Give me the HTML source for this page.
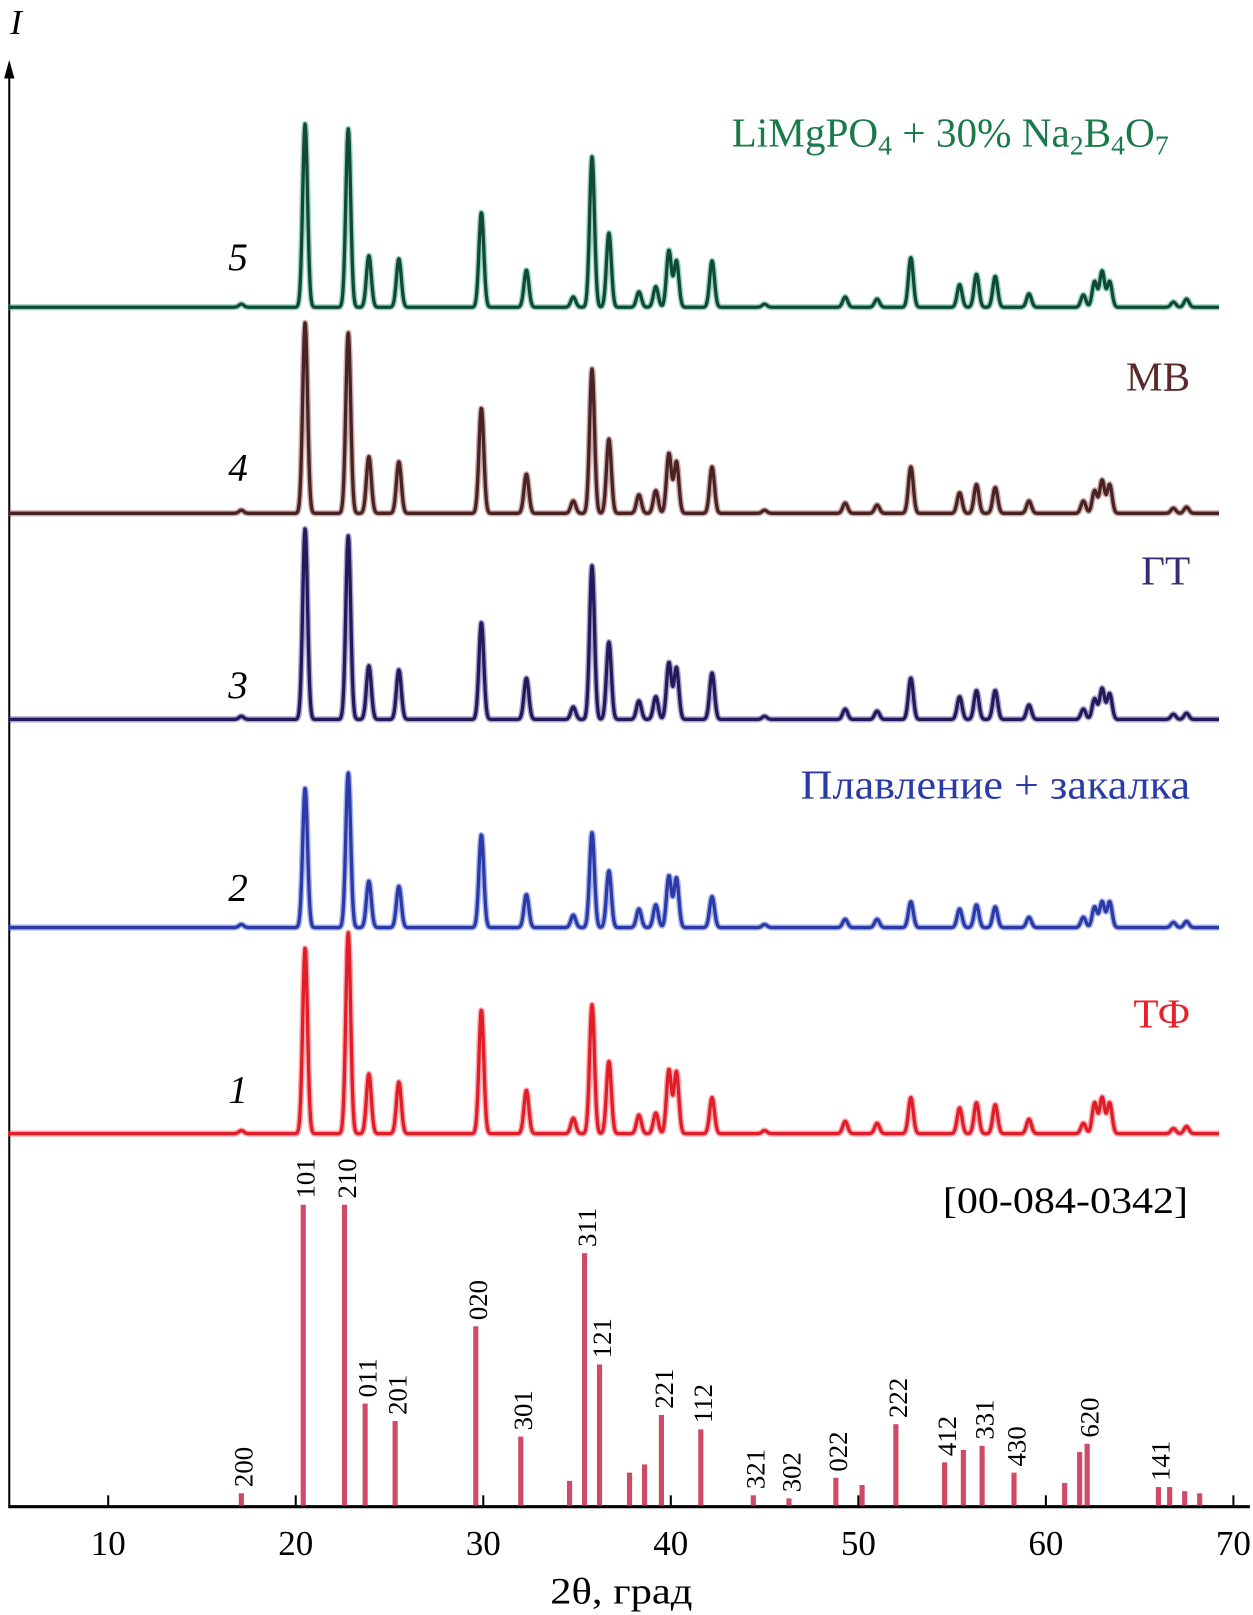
<!DOCTYPE html>
<html><head><meta charset="utf-8"><style>
html,body{margin:0;padding:0;background:#fff;}
svg{display:block;}
text{font-family:"Liberation Serif",serif;}
</style></head><body>
<svg id="chart" width="1253" height="1615" viewBox="0 0 1216 1567" xmlns="http://www.w3.org/2000/svg">
<g id="axes">
<line x1="9" y1="1462" x2="9" y2="70" stroke="#000" stroke-width="2"/>
<polygon points="9,58 4,76 14,76" fill="#000"/>
<text x="10" y="33" font-size="34" font-style="italic">I</text>
<line x1="8" y1="1462" x2="1213" y2="1462" stroke="#000" stroke-width="3"/>
<text x="603" y="1556" font-size="36" text-anchor="middle" textLength="138" lengthAdjust="spacingAndGlyphs">2θ, град</text>
</g>
<g id="ticks"></g>
<g id="series"></g>
<g id="refbars"></g>
<g id="labels">
<text x="231" y="262" font-size="38" font-style="italic" text-anchor="middle">5</text>
<text x="231" y="466" font-size="38" font-style="italic" text-anchor="middle">4</text>
<text x="231" y="677" font-size="38" font-style="italic" text-anchor="middle">3</text>
<text x="231" y="874" font-size="38" font-style="italic" text-anchor="middle">2</text>
<text x="231" y="1070" font-size="38" font-style="italic" text-anchor="middle">1</text>
<text x="710" y="142" font-size="40" fill="#1a7a4a">LiMgPO<tspan font-size="27" dy="8">4</tspan><tspan dy="-8"> + 30% Na</tspan><tspan font-size="27" dy="8">2</tspan><tspan dy="-8">B</tspan><tspan font-size="27" dy="8">4</tspan><tspan dy="-8">O</tspan><tspan font-size="27" dy="8">7</tspan></text>
<text x="1155" y="379" font-size="40" text-anchor="end" fill="#5a2a2a">МВ</text>
<text x="1155" y="567" font-size="40" text-anchor="end" fill="#3a2a7a">ГТ</text>
<text x="777" y="775" font-size="40" fill="#2a3aa8" textLength="378" lengthAdjust="spacingAndGlyphs">Плавление + закалка</text>
<text x="1155" y="997" font-size="40" text-anchor="end" fill="#e8202a">ТФ</text>
<text x="915" y="1177" font-size="36" textLength="238" lengthAdjust="spacingAndGlyphs">[00-084-0342]</text>
</g>
</svg>
<script>
const xTicks = [10,20,30,40,50,60,70];
const peakPos = [17.1,20.5,22.8,23.9,25.5,29.9,32.3,34.8,35.8,36.7,38.3,39.2,39.9,40.3,42.2,45.0,49.3,51.0,52.8,55.4,56.3,57.3,59.1,62.0,62.6,63.0,63.4,66.8,67.5];
const series5 = [3,178,173,50,47,92,36,10,146,72,15,20,55,45,45,3,10,8,48,22,32,30,13,12,25,35,25,5,8];
const series4 = [3,185,175,55,50,102,38,12,140,72,18,22,58,50,45,3,10,8,45,20,28,25,12,12,22,32,28,5,6];
const series3 = [3,185,178,52,48,94,40,12,149,75,18,22,55,50,45,3,10,8,40,22,28,28,14,10,20,30,25,5,6];
const series2 = [3,135,150,45,40,90,32,12,92,55,18,22,50,48,30,3,8,8,25,18,22,20,10,10,20,25,25,5,6];
const series1 = [3,180,195,58,50,120,42,15,125,70,18,20,62,60,35,3,12,10,35,25,30,28,14,10,30,35,30,5,7];
const refPos = [17.1,20.4,22.6,23.7,25.3,29.6,32.0,34.6,35.4,36.2,37.8,38.6,39.5,41.6,44.4,46.3,48.8,50.2,52.0,54.6,55.6,56.6,58.3,61.0,61.8,62.2,66.0,66.6,67.4,68.2];
const refInt = [12,292,292,99,82,174,67,24,245,137,32,40,88,74,10,7,27,20,79,42,54,58,32,22,52,60,18,18,14,12];
const refHkl = ["200","101","210","011","201","020","301","","311","121","","","221","112","321","302","022","","222","412","","331","430","","","620","141","","",""];

const NS = "http://www.w3.org/2000/svg";
const X0 = 8, X1 = 1183;
function xs(t){ return 105 + (t - 10) * 18.2; }
function mk(tag, attrs){ const e = document.createElementNS(NS, tag); for (const k in attrs) e.setAttribute(k, attrs[k]); return e; }

const tg = document.getElementById('ticks');
xTicks.forEach(t => {
  const l = mk('line', {x1: xs(t), x2: xs(t), y1: 1462, y2: 1451, stroke: '#000', 'stroke-width': 2});
  
  
  tg.appendChild(l);
  const tx = mk('text', {x: xs(t), y: 1509, 'font-size': 34, 'text-anchor': 'middle', textLength: 34, lengthAdjust: 'spacingAndGlyphs'});
  
  
  tx.textContent = t;
  tg.appendChild(tx);
});

const sg = document.getElementById('series');
const defs = [
  {d: series5, base: 298, c: '#0f4a36', o: '#2aa070', n: 'series-5-limgpo4-na2b4o7'},
  {d: series4, base: 498, c: '#4a2224', o: '#8a4a4a', n: 'series-4-mv'},
  {d: series3, base: 698, c: '#241a5a', o: '#4a3a9a', n: 'series-3-gt'},
  {d: series2, base: 900, c: '#2a3aa8', o: '#4a5ac8', n: 'series-2-melting-quench'},
  {d: series1, base: 1100, c: '#e01e28', o: '#ff4050', n: 'series-1-tf'}
];
defs.forEach(s => {
  let p = '';
  for (let px = X0; px <= X1; px += 0.5) {
    const t = 10 + (px - 105) / 18.2;
    let y = 0;
    for (let i = 0; i < peakPos.length; i++) {
      const dd = (t - peakPos[i]) / 0.13;
      y += s.d[i] * Math.exp(-0.5 * dd * dd);
    }
    p += (p ? 'L' : 'M') + px.toFixed(1) + ',' + (s.base - y).toFixed(1);
  }
  const o = mk('path', {d: p, fill: 'none', stroke: s.o, 'stroke-width': 6, 'stroke-linejoin': 'round', opacity: 0.45});
  
  
  sg.appendChild(o);
  const e = mk('path', {d: p, fill: 'none', stroke: s.c, 'stroke-width': 3.2, 'stroke-linejoin': 'round'});
  
  
  sg.appendChild(e);
});

const rg = document.getElementById('refbars');
refPos.forEach((t, i) => {
  const x = xs(t), h = refInt[i];
  const r = mk('rect', {x: x - 2.5, y: 1461 - h, width: 5, height: h, fill: '#d04a68'});
  
  
  rg.appendChild(r);
  if (refHkl[i]) {
    const tx = mk('text', {x: 0, y: 0, 'font-size': 26, transform: 'translate(' + (x + 11) + ',' + (1455 - h) + ') rotate(-90)'});
    
    
    tx.textContent = refHkl[i];
    rg.appendChild(tx);
  }
});
</script>
</body></html>
